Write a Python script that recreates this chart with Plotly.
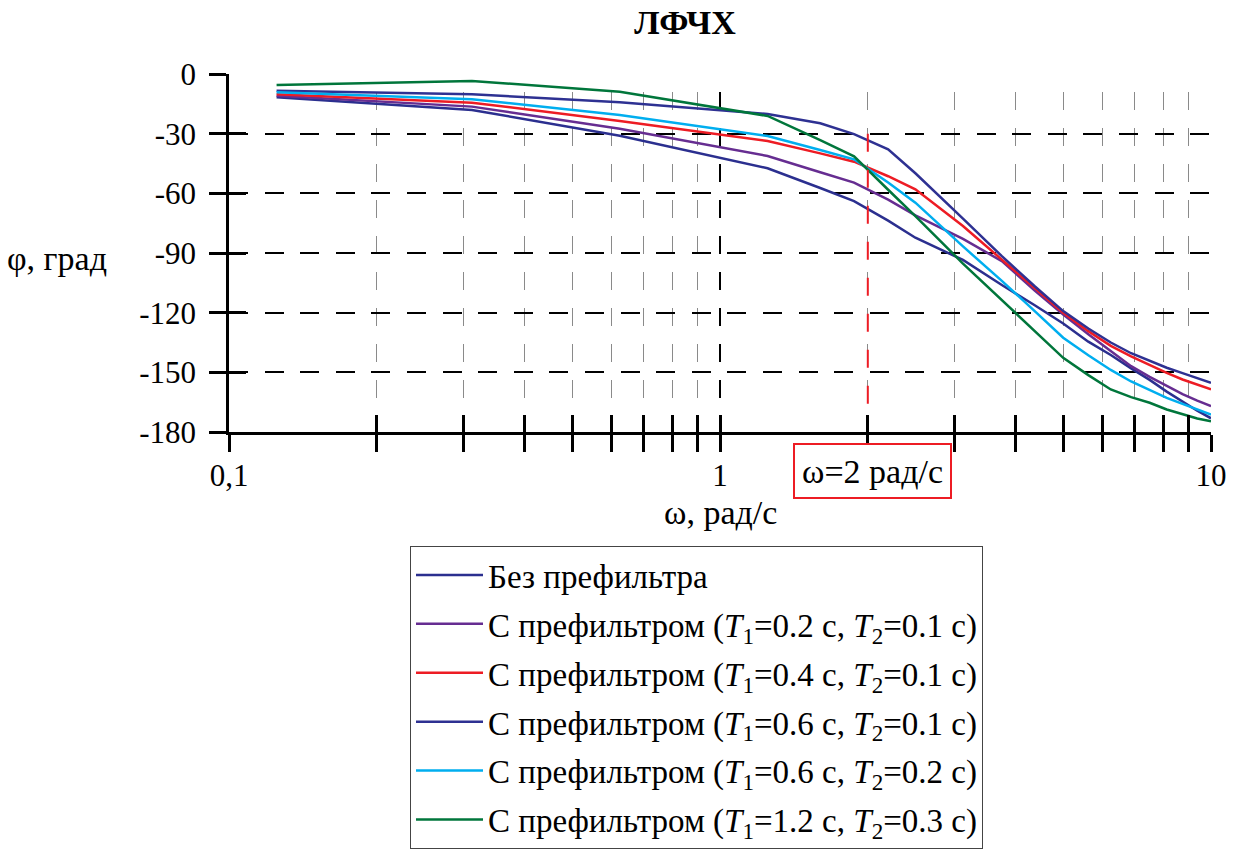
import numpy as np
import plotly.graph_objects as go

# Frequency grid, rad/s
omega = [0.125, 0.3125, 0.625, 1.25, 1.6, 1.875, 2.2, 2.5, 3.125, 3.75,
         4.375, 5, 5.625, 6.25, 6.875, 7.5, 8.125, 8.75, 9.375, 10]

# Phase responses, degrees
phi_none = [-11.7, -18.1, -31.0, -47.4, -57.3, -63.9, -73.7, -82.3, -93.5, -106.1,
            -116.3, -125.4, -134.6, -141.3, -148.0, -153.8, -159.7, -164.7, -169.3, -173.1]
phi_t02_01 = [-10.9, -16.4, -27.5, -41.2, -49.4, -54.6, -63.2, -71.1, -82.9, -94.1,
              -108.9, -120.9, -130.8, -139.4, -146.9, -152.3, -157.0, -161.0, -164.2, -167.0]
phi_t04_01 = [-10.2, -14.4, -23.6, -33.7, -39.9, -44.1, -51.4, -58.0, -76.4, -93.3,
              -108.0, -120.1, -129.3, -136.7, -142.0, -146.4, -150.3, -153.6, -156.3, -158.6]
phi_t06_01 = [-8.4, -10.2, -14.2, -20.1, -24.8, -30.2, -37.9, -49.9, -72.7, -91.6,
              -106.7, -119.2, -128.0, -135.0, -140.4, -144.4, -147.7, -150.4, -152.9, -155.3]
phi_t06_02 = [-9.2, -12.7, -20.6, -31.2, -38.2, -42.9, -54.6, -64.7, -86.7, -104.0,
              -119.2, -132.6, -141.4, -148.8, -154.6, -159.0, -162.8, -165.9, -168.7, -171.2]
phi_t12_03 = [-5.5, -3.5, -8.9, -21.1, -33.3, -41.4, -58.2, -71.5, -95.3, -113.6,
              -129.3, -142.7, -151.4, -158.6, -162.5, -165.3, -168.7, -171.2, -173.2, -174.6]

series_names = [
    "Без префильтра",
    "С префильтром (<i>T</i><sub>1</sub>=0.2 с, <i>T</i><sub>2</sub>=0.1 с)",
    "С префильтром (<i>T</i><sub>1</sub>=0.4 с, <i>T</i><sub>2</sub>=0.1 с)",
    "С префильтром (<i>T</i><sub>1</sub>=0.6 с, <i>T</i><sub>2</sub>=0.1 с)",
    "С префильтром (<i>T</i><sub>1</sub>=0.6 с, <i>T</i><sub>2</sub>=0.2 с)",
    "С префильтром (<i>T</i><sub>1</sub>=1.2 с, <i>T</i><sub>2</sub>=0.3 с)",
]
series_values = [phi_none, phi_t02_01, phi_t04_01, phi_t06_01, phi_t06_02, phi_t12_03]
series_colors = ["#2b2f8f", "#662d91", "#ed1c24", "#2e3192", "#00aeef", "#00763b"]

# Axis ticks
x_major = [0.1, 1, 10]
x_major_text = ["0,1", "1", "10"]
x_minor = [0.2, 0.3, 0.4, 0.5, 0.6, 0.7, 0.8, 0.9, 2, 3, 4, 5, 6, 7, 8, 9]
y_ticks = [0, -30, -60, -90, -120, -150, -180]
y_tick_text = ["0", "-30", "-60", "-90", "-120", "-150", "-180"]

# Marked frequency
omega_mark = 2
mark_phi = [-30, -180]

SERIF = "Liberation Serif"

fig = go.Figure()

for name, vals, color in zip(series_names, series_values, series_colors):
    fig.add_trace(go.Scatter(
        x=omega, y=vals, mode="lines", name=name, legendgroup=name,
        line=dict(color=color, width=2.5),
    ))

# vertical dashed marker at omega = 2
fig.add_trace(go.Scatter(
    x=[omega_mark, omega_mark], y=mark_phi, mode="lines",
    line=dict(color="#ed1c24", width=2, dash="18px,18px"),
    showlegend=False, hoverinfo="skip",
))

# empty trace carrying the overlay axes used for inward tick halves
fig.add_trace(go.Scatter(x=[], y=[], xaxis="x2", yaxis="y2",
                         showlegend=False, hoverinfo="skip"))

fig.update_layout(
    width=1235, height=863,
    margin=dict(l=229, r=24, t=74, b=431, autoexpand=False),
    paper_bgcolor="white", plot_bgcolor="white",
    font=dict(family=SERIF, size=31, color="black"),
    title=dict(text="<b>ЛФЧХ</b>", xref="container", x=685 / 1235, xanchor="center",
               yref="container", y=1 - 22 / 863, yanchor="middle",
               font=dict(family=SERIF, size=34, color="black")),
    xaxis=dict(
        type="log", range=[-1, 1],
        tickmode="array", tickvals=x_major, ticktext=x_major_text,
        ticks="outside", ticklen=17, tickwidth=2.5, tickcolor="black",
        ticklabelstandoff=-3,
        showline=True, linewidth=2.5, linecolor="black",
        showgrid=True, gridcolor="black", gridwidth=2, griddash="0px,18px,18px,0px",
        zeroline=False,
        minor=dict(tickmode="array", tickvals=x_minor, ticks="outside", ticklen=17,
                   tickwidth=2.5, tickcolor="black", showgrid=True,
                   gridcolor="#8a8a8a", gridwidth=1.2, griddash="0px,18px,18px,0px"),
        tickfont=dict(family=SERIF, size=31, color="black"),
    ),
    yaxis=dict(
        range=[-180, 0], tickmode="array", tickvals=y_ticks, ticktext=y_tick_text,
        ticks="outside", ticklen=17, tickwidth=2.5, tickcolor="black",
        ticklabelstandoff=7,
        showline=True, linewidth=2.5, linecolor="black",
        showgrid=True, gridcolor="black", gridwidth=1.5, griddash="19px,16.6px",
        zeroline=False,
        tickfont=dict(family=SERIF, size=31, color="black"),
    ),
    xaxis2=dict(
        type="log", range=[-1, 1], overlaying="x", anchor="y2",
        tickmode="array", tickvals=x_major + x_minor,
        ticks="inside", ticklen=17, tickwidth=2.5, tickcolor="black",
        showticklabels=False, showgrid=False, showline=False, zeroline=False,
    ),
    yaxis2=dict(
        range=[-180, 0], overlaying="y", anchor="x2",
        tickmode="array", tickvals=y_ticks,
        ticks="inside", ticklen=17, tickwidth=2.5, tickcolor="black",
        showticklabels=False, showgrid=False, showline=False, zeroline=False,
    ),
    legend=dict(
        x=(410 - 229) / 982, y=(432 - 546) / 358, xanchor="left", yanchor="top",
        bgcolor="white", bordercolor="#444444", borderwidth=1,
        font=dict(family=SERIF, size=33, color="black"),
        tracegroupgap=3, itemwidth=67,
    ),
    showlegend=True,
)

fig.add_annotation(
    text="φ, град", xref="paper", yref="paper",
    x=(57 - 229) / 982, y=(432 - 258) / 358, xanchor="center", yanchor="middle",
    showarrow=False, font=dict(family=SERIF, size=34, color="black"),
)
fig.add_annotation(
    text="ω, рад/с", xref="paper", yref="paper",
    x=0.5, y=(432 - 512) / 358, xanchor="center", yanchor="middle",
    showarrow=False, font=dict(family=SERIF, size=34, color="black"),
)
fig.add_annotation(
    text="ω=2 рад/с", xref="x", yref="paper",
    x=np.log10(omega_mark) + 0.009, y=(432 - 471) / 358, xanchor="center", yanchor="middle",
    width=151, height=48, align="center", valign="middle",
    showarrow=False, font=dict(family=SERIF, size=34, color="black"),
    bordercolor="#ed1c24", borderwidth=2, borderpad=2, bgcolor="white",
)

fig.write_html("out.html")
